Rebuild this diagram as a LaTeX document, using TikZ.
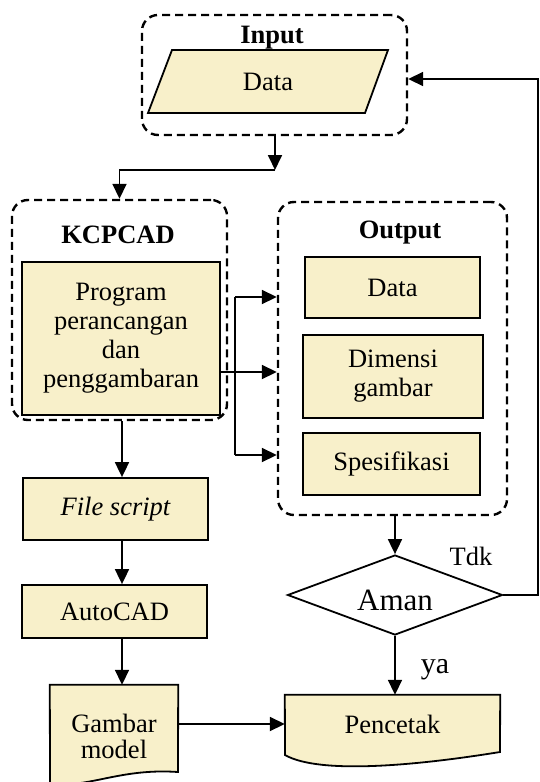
\documentclass[tikz,border=0pt]{standalone}
\usepackage{fontspec}
\setmainfont{Liberation Serif}
\usetikzlibrary{arrows.meta,shapes.geometric,backgrounds}
\definecolor{boxfill}{RGB}{248,240,202}
\newcommand{\szmain}{\fontsize{26.5}{29}\selectfont}
\tikzset{
  every node/.style={font=\szmain, inner sep=0pt},
  grp/.style={draw, dash pattern=on 8pt off 5pt, line width=2.4pt, rounded corners=16pt},
  procbox/.style={draw, fill=boxfill, line width=1.8pt, align=center},
  docshape/.style={draw, fill=boxfill, line width=1.8pt},
  titletext/.style={anchor=base, font=\szmain\bfseries},
  arr/.style={line width=1.8pt, -{Triangle[length=15pt,width=14pt]}},
  ln/.style={line width=1.8pt}
}
\begin{document}
\begin{tikzpicture}[x=1pt,y=-1pt]
\useasboundingbox (0,0) rectangle (540,782);

% ---- Input group
\node[grp, minimum width=265pt, minimum height=120pt] (inbox) at (274.5,75) {};
\node[titletext] (intitle) at (272,43) {Input};
\node (indata) at (268,82) {Data};

% ---- KCPCAD group
\node[grp, minimum width=215pt, minimum height=220pt] (kc) at (119.5,310) {};
\node[titletext] (kctitle) at (118,243) {KCPCAD};
\node[procbox, minimum width=198pt, minimum height=153pt] (prog) at (121,338.5)
  {Program\\perancangan\\dan\\penggambaran};

% ---- Output group
\node[grp, minimum width=229pt, minimum height=313pt] (obox) at (392.5,358.5) {};
\node[titletext] (otitle) at (400,238) {Output};
\node[procbox, minimum width=175pt, minimum height=61pt] (odata) at (392.5,287.5) {Data};
\node[procbox, minimum width=180pt, minimum height=83pt] (odim) at (393,376.5) {Dimensi\\gambar};
\node[procbox, minimum width=177pt, minimum height=62pt] (ospec) at (391.5,464) {Spesifikasi};

% ---- Left column
\node[procbox, minimum width=185pt, minimum height=62pt] (fs) at (115.5,509) {\itshape File script};
\node[procbox, minimum width=185pt, minimum height=53pt] (acad) at (114.5,611.5) {AutoCAD};
\node[align=center, font=\fontsize{26.5}{26}\selectfont, minimum width=128pt, minimum height=102pt] (gm) at (114,736) {Gambar\\model};

% ---- Decision and printer
\node[diamond, draw, fill=white, line width=1.8pt, aspect=2.69,
      minimum width=215pt, minimum height=80pt] (aman) at (395,595) {};
\node[anchor=base, font=\fontsize{31}{36}\selectfont] (amantext) at (395,610) {Aman};
\node[minimum width=215pt, minimum height=58pt] (pc) at (392.5,724) {Pencetak};

\node[anchor=base] (tdk) at (471,565) {Tdk};
\node[anchor=base, font=\fontsize{30}{34}\selectfont] (ya) at (435,673) {ya};

% ---- background shapes
\begin{scope}[on background layer]
  \fill[white] (0,0) rectangle (540,782);
  \draw[docshape] (172,50) -- (388,50) -- (365,113) -- (148,113) -- cycle;
  \draw[docshape] (gm.north west) -- (gm.north east) -- (178,772)
     .. controls (120,768) and (90,788) .. (50,784) -- cycle;
  \draw[docshape] (pc.north west) -- (pc.north east) -- (500,752)
     .. controls (420,765) and (320,775) .. (285,755) -- cycle;
\end{scope}

% ---- connectors
\coordinate (j1) at (275,170);
\draw[arr] (inbox.south -| j1) -- (j1);
\draw[arr] (j1) -| (kc.north);

\coordinate (v1) at (235,297);
\coordinate (v2) at (235,372);
\coordinate (v3) at (235,455);
\draw[ln] (v1) -- (v3);
\draw[arr] (v1) -- (v1 -| obox.west);
\draw[arr] (v2 -| prog.east) -- (v2 -| obox.west);
\draw[arr] (v3) -- (v3 -| obox.west);

\coordinate (colx) at (122,0);
\draw[arr] (kc.south -| colx) -- (fs.north -| colx);
\draw[arr] (fs.south -| colx) -- (acad.north -| colx);
\draw[arr] (acad.south -| colx) -- (gm.north -| colx);
\draw[arr] (gm.east |- pc.west) -- (pc.west);

\draw[arr] (aman.north |- obox.south) -- (aman.north);
\draw[arr] (aman.south) -- (aman.south |- pc.north);

\coordinate (rc) at (538,79);
\draw[arr] (aman.east) -| (rc) -- (rc -| inbox.east);
\end{tikzpicture}
\end{document}
